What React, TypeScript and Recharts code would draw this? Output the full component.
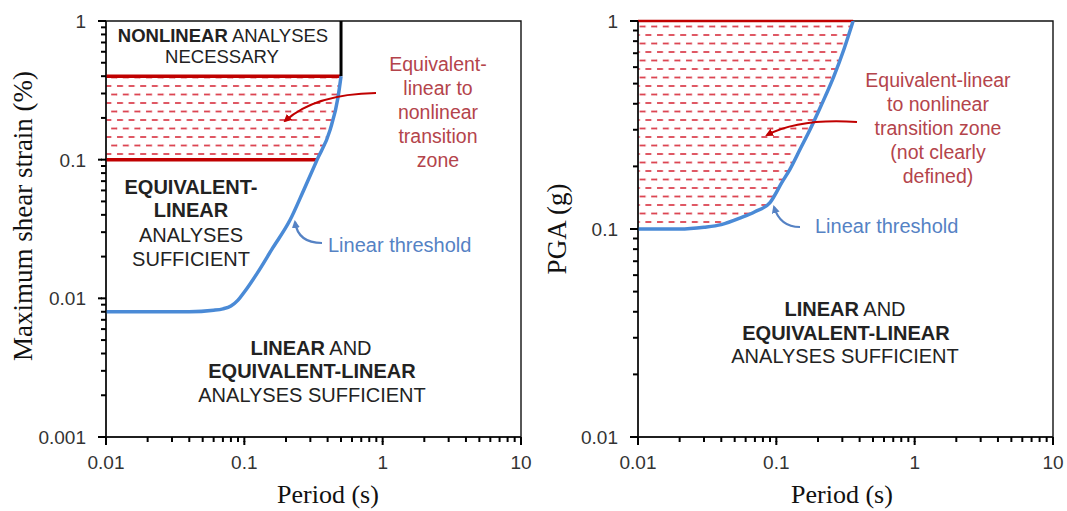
import React from 'react';
import { ComposedChart, Line, Area, XAxis, YAxis, ReferenceLine, ReferenceArea } from 'recharts';

// axis ticks (log decades)
const periodTicks = [0.01, 0.1, 1, 10];
const strainTicks = [0.001, 0.01, 0.1, 1];
const pgaTicks = [0.01, 0.1, 1];
const minorSteps = [2, 3, 4, 5, 6, 7, 8, 9];

// left panel: linear threshold, max shear strain (%) vs period (s)
const thresholdPeriodL = [0.01, 0.02, 0.04, 0.06, 0.07, 0.08, 0.09, 0.1, 0.124, 0.16, 0.214, 0.27, 0.336, 0.417, 0.476, 0.5];
const thresholdStrainL = [0.008, 0.008, 0.008, 0.0082, 0.0084, 0.0088, 0.0097, 0.0111, 0.0152, 0.023, 0.0367, 0.061, 0.1, 0.164, 0.283, 0.4];
const zoneStrainL = [0.1, 0.4]; // equivalent-linear to nonlinear transition
const nonlinearPeriodL = 0.5;

// right panel: linear threshold, PGA (g) vs period (s)
const thresholdPeriodR = [0.01, 0.02, 0.03, 0.04, 0.055, 0.07, 0.09, 0.11, 0.125, 0.15, 0.175, 0.21, 0.26, 0.31, 0.359];
const thresholdPgaR = [0.1, 0.1, 0.102, 0.105, 0.113, 0.121, 0.134, 0.168, 0.193, 0.245, 0.3, 0.39, 0.54, 0.74, 1.0];
const zoneTopPgaR = 1;

const RED = '#c00000';
const HATCH = '#dc4552';
const BLUE = '#4a8ad6';
const RED_TXT = '#b4444b';
const BLUE_TXT = '#5582c4';
const SANS = '"Liberation Sans", Arial, sans-serif';
const SERIF = '"Liberation Serif", "Times New Roman", serif';
const TICK = 5;

const withMinor = (majors: number[]) => {
  const out: number[] = [];
  majors.forEach((m, i) => {
    out.push(m);
    if (i < majors.length - 1) minorSteps.forEach((k) => out.push(+(m * k).toPrecision(6)));
  });
  return out;
};

const isMajor = (v: number, majors: number[]) => majors.some((m) => Math.abs(m - v) / m < 1e-6);

function XTick(props: any) {
  const x = Number(props.x);
  const y = Number(props.y);
  const v = props.payload.value;
  if (!isMajor(v, props.majors)) return <g />;
  return (
    <g>
      <line x1={x} x2={x} y1={y - 1} y2={y + 3} stroke="#000" strokeWidth={2} />
      <text x={x} y={y + 27} textAnchor="middle" fontFamily={SANS} fontSize={19} fill="#333" stroke="none">
        {String(v)}
      </text>
    </g>
  );
}

function YTick(props: any) {
  const x = Number(props.x);
  const y = Number(props.y);
  const v = props.payload.value;
  if (!isMajor(v, props.majors)) return <g />;
  return (
    <g>
      <line x1={x - 3} x2={x + 1} y1={y} y2={y} stroke="#000" strokeWidth={2} />
      <text x={x - 15} y={y + 7} textAnchor="end" fontFamily={SANS} fontSize={19} fill="#333" stroke="none">
        {String(v)}
      </text>
    </g>
  );
}

const Hatch = ({ id }: { id: string }) => (
  <defs>
    <pattern id={id} width={11.6} height={17} patternUnits="userSpaceOnUse">
      <line x1={1} x2={7} y1={1} y2={1} stroke={HATCH} strokeWidth={1.8} />
      <line x1={6.8} x2={12.8} y1={9.5} y2={9.5} stroke={HATCH} strokeWidth={1.8} />
      <line x1={-4.8} x2={1.2} y1={9.5} y2={9.5} stroke={HATCH} strokeWidth={1.8} />
    </pattern>
  </defs>
);

const axisLine = { stroke: '#111', strokeWidth: 1.4 };
const tickLine = { stroke: '#000', strokeWidth: 2 };

function StrainChart() {
  const curve = thresholdPeriodL.map((p, i) => ({ period: p, value: thresholdStrainL[i] }));
  const zone = [
    { period: thresholdPeriodL[0], band: [zoneStrainL[0], zoneStrainL[1]] },
    ...curve
      .filter((d) => d.value >= zoneStrainL[0])
      .map((d) => ({ period: d.period, band: [d.value, zoneStrainL[1]] })),
  ];
  const lowEnd = curve.find((d) => d.value >= zoneStrainL[0])!.period;
  return (
    <ComposedChart width={540} height={511} margin={{ top: 21, right: 19, bottom: 0, left: 0 }}>
      <Hatch id="hatchL" />
      <XAxis
        dataKey="period"
        type="number"
        scale="log"
        domain={[0.01, 10]}
        ticks={withMinor(periodTicks)}
        interval={0}
        allowDataOverflow
        height={74}
        tickSize={TICK}
        tickMargin={0}
        tickLine={tickLine}
        axisLine={axisLine}
        tick={<XTick majors={periodTicks} />}
      />
      <YAxis
        type="number"
        scale="log"
        domain={[0.001, 1]}
        ticks={withMinor(strainTicks)}
        interval={0}
        allowDataOverflow
        width={106}
        tickSize={TICK}
        tickMargin={0}
        tickLine={tickLine}
        axisLine={axisLine}
        tick={<YTick majors={strainTicks} />}
      />
      <Area
        data={zone}
        dataKey="band"
        type="monotone"
        stroke="none"
        fill="url(#hatchL)"
        fillOpacity={1}
        isAnimationActive={false}
      />
      <ReferenceArea x1={0.01} x2={10} y1={0.001} y2={1} fill="none" stroke="#111" strokeWidth={1.4} />
      <ReferenceLine segment={[{ x: 0.01, y: zoneStrainL[1] }, { x: nonlinearPeriodL, y: zoneStrainL[1] }]} stroke={RED} strokeWidth={3.5} />
      <ReferenceLine segment={[{ x: 0.01, y: zoneStrainL[0] }, { x: lowEnd, y: zoneStrainL[0] }]} stroke={RED} strokeWidth={3.5} />
      <ReferenceLine segment={[{ x: nonlinearPeriodL, y: zoneStrainL[1] }, { x: nonlinearPeriodL, y: 1 }]} stroke="#000" strokeWidth={3} />
      <Line
        data={curve}
        dataKey="value"
        type="monotone"
        stroke={BLUE}
        strokeWidth={3.5}
        dot={false}
        isAnimationActive={false}
      />
    </ComposedChart>
  );
}

function PgaChart() {
  const curve = thresholdPeriodR.map((p, i) => ({ period: p, value: thresholdPgaR[i] }));
  const zone = curve.map((d) => ({ period: d.period, band: [d.value, zoneTopPgaR] }));
  return (
    <ComposedChart width={527} height={511} margin={{ top: 21, right: 14, bottom: 0, left: 0 }}>
      <Hatch id="hatchR" />
      <XAxis
        dataKey="period"
        type="number"
        scale="log"
        domain={[0.01, 10]}
        ticks={withMinor(periodTicks)}
        interval={0}
        allowDataOverflow
        height={74}
        tickSize={TICK}
        tickMargin={0}
        tickLine={tickLine}
        axisLine={axisLine}
        tick={<XTick majors={periodTicks} />}
      />
      <YAxis
        type="number"
        scale="log"
        domain={[0.01, 1]}
        ticks={withMinor(pgaTicks)}
        interval={0}
        allowDataOverflow
        width={98}
        tickSize={TICK}
        tickMargin={0}
        tickLine={tickLine}
        axisLine={axisLine}
        tick={<YTick majors={pgaTicks} />}
      />
      <Area
        data={zone}
        dataKey="band"
        type="monotone"
        stroke="none"
        fill="url(#hatchR)"
        fillOpacity={1}
        isAnimationActive={false}
      />
      <ReferenceArea x1={0.01} x2={10} y1={0.01} y2={1} fill="none" stroke="#111" strokeWidth={1.4} />
      <ReferenceLine
        segment={[{ x: 0.01, y: zoneTopPgaR }, { x: thresholdPeriodR[thresholdPeriodR.length - 1], y: zoneTopPgaR }]}
        stroke={RED}
        strokeWidth={2.5}
      />
      <Line
        data={curve}
        dataKey="value"
        type="monotone"
        stroke={BLUE}
        strokeWidth={3.5}
        dot={false}
        isAnimationActive={false}
      />
    </ComposedChart>
  );
}

function Notes() {
  const t = { fontFamily: SANS, textAnchor: 'middle' as const };
  return (
    <svg width={1067} height={511} style={{ position: 'absolute', left: 0, top: 0, pointerEvents: 'none' }}>
      <defs>
        <marker id="arRed" markerWidth={8} markerHeight={8} refX={6} refY={4} orient="auto" markerUnits="userSpaceOnUse">
          <path d="M0,0 L8,4 L0,8 Z" fill={RED} />
        </marker>
        <marker id="arBlue" markerWidth={8} markerHeight={8} refX={6} refY={4} orient="auto" markerUnits="userSpaceOnUse">
          <path d="M0,0 L8,4 L0,8 Z" fill={BLUE_TXT} />
        </marker>
      </defs>
      {/* axis titles */}
      <text x={328} y={503} textAnchor="middle" fontFamily={SERIF} fontSize={26} fill="#111">Period (s)</text>
      <text x={842} y={503} textAnchor="middle" fontFamily={SERIF} fontSize={26} fill="#111">Period (s)</text>
      <text transform="translate(32,216) rotate(-90)" textAnchor="middle" fontFamily={SERIF} fontSize={27} fill="#111">Maximum shear strain (%)</text>
      <text transform="translate(566,229) rotate(-90)" textAnchor="middle" fontFamily={SERIF} fontSize={27} fill="#111">PGA (g)</text>

      {/* left panel */}
      <g {...t} fontSize={18.5} fill="#222">
        <text x={223} y={42}><tspan fontWeight="bold">NONLINEAR</tspan> ANALYSES</text>
        <text x={222} y={63}>NECESSARY</text>
      </g>
      <g {...t} fontSize={20} fill="#222">
        <text x={191} y={194} fontWeight="bold">EQUIVALENT-</text>
        <text x={191} y={217} fontWeight="bold">LINEAR</text>
        <text x={191} y={242}>ANALYSES</text>
        <text x={191} y={266}>SUFFICIENT</text>
        <text x={311} y={355}><tspan fontWeight="bold">LINEAR</tspan> AND</text>
        <text x={312} y={378} fontWeight="bold">EQUIVALENT-LINEAR</text>
        <text x={312} y={402}>ANALYSES SUFFICIENT</text>
      </g>
      <g {...t} fontSize={19.5} fill={RED_TXT}>
        <text x={438} y={71}>Equivalent-</text>
        <text x={438} y={95}>linear to</text>
        <text x={438} y={119}>nonlinear</text>
        <text x={438} y={143}>transition</text>
        <text x={438} y={167}>zone</text>
      </g>
      <path d="M 376 93 Q 315 94 285 121" fill="none" stroke={RED} strokeWidth={2.2} markerEnd="url(#arRed)" />
      <text x={328} y={252} fontFamily={SANS} fontSize={20} fill={BLUE_TXT}>Linear threshold</text>
      <path d="M 322 243 Q 298 243 295 222" fill="none" stroke={BLUE_TXT} strokeWidth={2.2} markerEnd="url(#arBlue)" />

      {/* right panel */}
      <g {...t} fontSize={19.5} fill={RED_TXT}>
        <text x={938} y={87}>Equivalent-linear</text>
        <text x={938} y={111}>to nonlinear</text>
        <text x={938} y={135}>transition zone</text>
        <text x={938} y={159}>(not clearly</text>
        <text x={938} y={183}>defined)</text>
      </g>
      <path d="M 857 122 Q 800 118 767 135" fill="none" stroke={RED} strokeWidth={2.2} markerEnd="url(#arRed)" />
      <text x={815} y={233} fontFamily={SANS} fontSize={20} fill={BLUE_TXT}>Linear threshold</text>
      <path d="M 800 227 Q 780 227 774 207" fill="none" stroke={BLUE_TXT} strokeWidth={2.2} markerEnd="url(#arBlue)" />
      <g {...t} fontSize={20} fill="#222">
        <text x={845} y={316}><tspan fontWeight="bold">LINEAR</tspan> AND</text>
        <text x={846} y={340} fontWeight="bold">EQUIVALENT-LINEAR</text>
        <text x={845} y={363}>ANALYSES SUFFICIENT</text>
      </g>
    </svg>
  );
}

export default function App() {
  return (
    <div style={{ position: 'absolute', left: 0, top: 0, width: 1067, height: 511, background: '#fff', overflow: 'hidden' }}>
      <div style={{ position: 'absolute', left: 0, top: 0 }}>
        <StrainChart />
      </div>
      <div style={{ position: 'absolute', left: 540, top: 0 }}>
        <PgaChart />
      </div>
      <Notes />
    </div>
  );
}
